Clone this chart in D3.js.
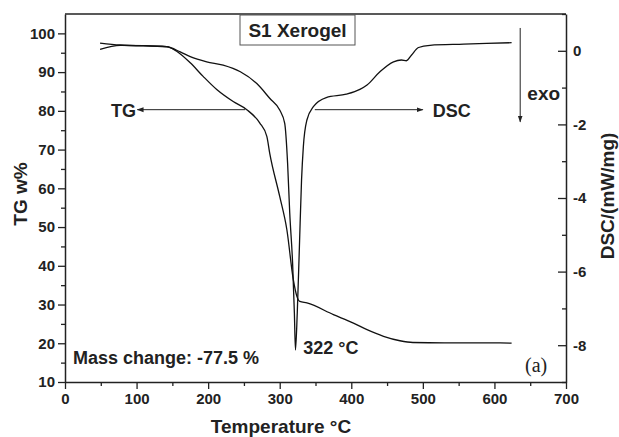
<!DOCTYPE html>
<html>
<head>
<meta charset="utf-8">
<title>S1 Xerogel TG/DSC</title>
<script src="https://cdn.jsdelivr.net/npm/d3@7"></script>
<style>
    html, body { margin: 0; padding: 0; background: #fff; }
    svg text { font-family: Arial, "Liberation Sans", sans-serif; font-weight: bold; fill: #222; }
    .axis path, .axis line { stroke: #222; }
</style>
</head>
<body>
<svg id="chart" width="619" height="437"></svg>
<script>

// TG curve (left axis, wt%)
var tgTemp = [49, 77, 142, 156, 175, 193, 212, 235, 254, 272, 282, 286, 300, 310, 319, 324, 328, 338, 375, 403, 422, 445, 468, 486, 530, 580, 624];
var tgValues = [97.5, 97.0, 96.6, 95.4, 92.4, 88.9, 85.5, 82.4, 80.3, 76.9, 73.4, 69.1, 57.9, 49.3, 36.4, 32.1, 30.8, 30.4, 27.4, 25.2, 23.5, 21.8, 20.65, 20.2, 20.1, 20.1, 20.05];

// DSC curve (right axis, mW/mg)
var dscTemp = [49, 77, 142, 161, 175, 198, 221, 245, 268, 286, 300, 307, 311, 314, 318, 320.5, 322, 324.5, 327.5, 330.5, 333, 338, 347, 365, 393, 412, 422, 440, 459, 470, 477, 484, 494, 510, 557, 624];
var dscValues = [0.04, 0.15, 0.11, -0.03, -0.16, -0.30, -0.39, -0.57, -0.89, -1.29, -1.61, -1.97, -3.05, -4.41, -5.77, -7.13, -8.13, -7.13, -5.33, -3.51, -2.61, -1.88, -1.52, -1.27, -1.18, -1.05, -0.93, -0.57, -0.30, -0.25, -0.27, -0.12, 0.09, 0.15, 0.18, 0.22];

// axis ticks
var xTicks = [0, 100, 200, 300, 400, 500, 600, 700];
var xMinor = [50, 150, 250, 350, 450, 550, 650];
var tgTicks = [10, 20, 30, 40, 50, 60, 70, 80, 90, 100];
var tgMinor = [15, 25, 35, 45, 55, 65, 75, 85, 95];
var dscTicks = [-8, -6, -4, -2, 0];
var dscMinor = [-9, -7, -5, -3, -1, 1];

var svg = d3.select("#chart");
var plotLeft = 65, plotRight = 566, plotTop = 14, plotBottom = 382;
var fontStack = "Arial, 'Liberation Sans', sans-serif";

var x = d3.scaleLinear().domain([0, 700]).range([plotLeft, plotRight]);
var yTG = d3.scaleLinear().domain([10, 105]).range([plotBottom, plotTop]);
var yDSC = d3.scaleLinear().domain([-9, 1]).range([plotBottom, plotTop]);

// arrow heads
var defs = svg.append("defs");
defs.append("marker")
    .attr("id", "head")
    .attr("viewBox", "0 0 10 10")
    .attr("refX", 9).attr("refY", 5)
    .attr("markerWidth", 7).attr("markerHeight", 7)
    .attr("markerUnits", "userSpaceOnUse")
    .attr("orient", "auto")
  .append("path")
    .attr("d", "M0,1.5 L10,5 L0,8.5 Z")
    .attr("fill", "#222");

// frame (top line)
svg.append("line")
    .attr("x1", plotLeft).attr("x2", plotRight)
    .attr("y1", plotTop).attr("y2", plotTop)
    .attr("stroke", "#222").attr("stroke-width", 1.5);

// bottom axis
svg.append("g").attr("class", "axis")
    .attr("transform", "translate(0," + plotBottom + ")")
    .call(d3.axisBottom(x).tickValues(xMinor).tickSize(4).tickFormat(""))
    .call(function(g) { g.select(".domain").remove(); });
var gx = svg.append("g").attr("class", "axis")
    .attr("transform", "translate(0," + plotBottom + ")")
    .call(d3.axisBottom(x).tickValues(xTicks).tickSize(7).tickSizeOuter(0).tickPadding(4));
gx.selectAll("text").attr("font-size", 15).attr("font-family", fontStack);

// left axis
svg.append("g").attr("class", "axis")
    .attr("transform", "translate(" + plotLeft + ",0)")
    .call(d3.axisLeft(yTG).tickValues(tgMinor).tickSize(4).tickFormat(""))
    .call(function(g) { g.select(".domain").remove(); });
var gl = svg.append("g").attr("class", "axis")
    .attr("transform", "translate(" + plotLeft + ",0)")
    .call(d3.axisLeft(yTG).tickValues(tgTicks).tickSize(7).tickSizeOuter(0).tickPadding(3));
gl.selectAll("text").attr("font-size", 15).attr("font-family", fontStack);

// right axis, ticks inward
svg.append("g").attr("class", "axis")
    .attr("transform", "translate(" + plotRight + ",0)")
    .call(d3.axisRight(yDSC).tickValues(dscMinor).tickSize(-4).tickFormat(""))
    .call(function(g) { g.select(".domain").remove(); });
var gr = svg.append("g").attr("class", "axis")
    .attr("transform", "translate(" + plotRight + ",0)")
    .call(d3.axisRight(yDSC).tickValues(dscTicks).tickSize(-8).tickSizeOuter(0)
        .tickFormat(function(d) { return String(d); }));
gr.selectAll("text").attr("font-size", 15).attr("font-family", fontStack)
    .attr("x", 7);

svg.selectAll(".axis .domain").attr("stroke-width", 1.5);
svg.selectAll(".axis .tick line").attr("stroke-width", 1.3);

// curves
var tgLine = d3.line()
    .x(function(d, i) { return x(tgTemp[i]); })
    .y(function(d) { return yTG(d); })
    .curve(d3.curveMonotoneX);
var dscLine = d3.line()
    .x(function(d, i) { return x(dscTemp[i]); })
    .y(function(d) { return yDSC(d); })
    .curve(d3.curveMonotoneX);

svg.append("path").datum(tgValues)
    .attr("d", tgLine)
    .attr("fill", "none").attr("stroke", "#111").attr("stroke-width", 1.3);
svg.append("path").datum(dscValues)
    .attr("d", dscLine)
    .attr("fill", "none").attr("stroke", "#111").attr("stroke-width", 1.3);

// title box
svg.append("rect")
    .attr("x", 240).attr("y", 15)
    .attr("width", 115).attr("height", 30)
    .attr("fill", "#fff").attr("stroke", "#555").attr("stroke-width", 1);
svg.append("text")
    .attr("x", 297.5).attr("y", 37)
    .attr("text-anchor", "middle")
    .attr("font-size", 19)
    .text("S1 Xerogel");

// TG / DSC arrows
var arrowY = yTG(80.3);
svg.append("line")
    .attr("x1", x(251.5)).attr("x2", x(101))
    .attr("y1", arrowY).attr("y2", arrowY)
    .attr("stroke", "#222").attr("stroke-width", 1)
    .attr("marker-end", "url(#head)");
svg.append("text")
    .attr("x", x(100.6) - 1).attr("y", arrowY + 7)
    .attr("text-anchor", "end")
    .attr("font-size", 18)
    .text("TG");

svg.append("line")
    .attr("x1", x(349)).attr("x2", x(500))
    .attr("y1", arrowY).attr("y2", arrowY)
    .attr("stroke", "#222").attr("stroke-width", 1)
    .attr("marker-end", "url(#head)");
svg.append("text")
    .attr("x", x(500) + 10).attr("y", arrowY + 7)
    .attr("font-size", 18)
    .text("DSC");

// exo arrow
svg.append("line")
    .attr("x1", x(636)).attr("x2", x(636))
    .attr("y1", yDSC(0.62)).attr("y2", yDSC(-1.93))
    .attr("stroke", "#222").attr("stroke-width", 1)
    .attr("marker-end", "url(#head)");
svg.append("text")
    .attr("x", x(646)).attr("y", 100)
    .attr("font-size", 19)
    .text("exo");

// peak label
svg.append("text")
    .attr("x", x(333)).attr("y", 354)
    .attr("font-size", 18)
    .text("322 \u00B0C");

svg.append("text")
    .attr("x", 73).attr("y", 364)
    .attr("font-size", 18)
    .text("Mass change: -77.5 %");

svg.append("text")
    .attr("x", 525).attr("y", 372)
    .attr("font-size", 20)
    .style("font-weight", "normal")
    .style("font-family", "'Liberation Serif', 'Times New Roman', serif")
    .text("(a)");

// axis titles
svg.append("text")
    .attr("x", 281).attr("y", 433)
    .attr("text-anchor", "middle")
    .attr("font-size", 19)
    .text("Temperature \u00B0C");

svg.append("text")
    .attr("transform", "translate(27,194) rotate(-90)")
    .attr("text-anchor", "middle")
    .attr("font-size", 19)
    .text("TG w%");

svg.append("text")
    .attr("transform", "translate(614,196) rotate(-90)")
    .attr("text-anchor", "middle")
    .attr("font-size", 19)
    .text("DSC/(mW/mg)");

</script>
</body>
</html>
